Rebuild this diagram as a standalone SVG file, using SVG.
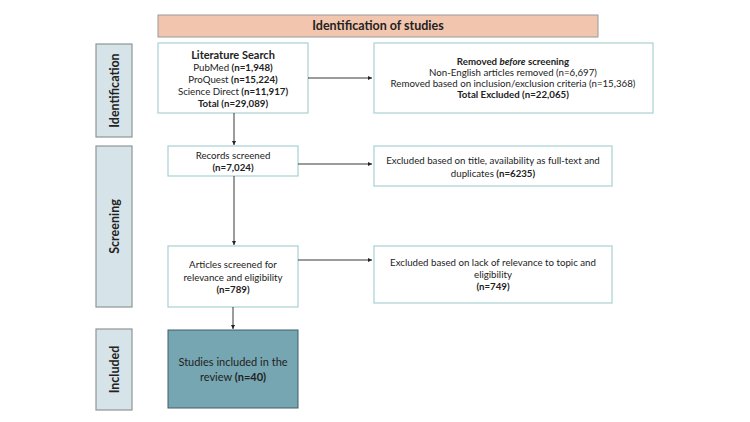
<svg xmlns="http://www.w3.org/2000/svg" width="750" height="422" viewBox="0 0 750 422">
<defs>
<marker id="ah" viewBox="0 0 10 10" refX="10" refY="5" markerWidth="5" markerHeight="5" orient="auto"><path d="M0,0 L10,5 L0,10 z" fill="#222"/></marker>
<style>
text{font-family:Lato,"Open Sans","Liberation Sans",sans-serif;fill:#222;text-anchor:middle;font-size:9.7px}
.b{font-weight:bold}
.box{fill:#fff;stroke:#a9d0d4;stroke-width:1.2}
.side{fill:#d6e4e9;stroke:#8e9597;stroke-width:1.2}
.sl{font-weight:bold;font-size:12.5px}
.c{stroke:#222;stroke-width:0.9;fill:none;marker-end:url(#ah)}
</style>
</defs>
<rect width="750" height="422" fill="#fff"/>
<g id="header"><rect x="158" y="15" width="440" height="22" fill="#f2c5ae" stroke="#9a9a9a" stroke-width="1"/><text x="378" y="30" class="b" style="font-size:12.5px">Identification of studies</text></g>
<g id="side-identification"><rect class="side" x="96" y="44" width="36" height="93"/><text class="sl" transform="translate(118.5,90.5) rotate(-90)">Identification</text></g>
<g id="side-screening"><rect class="side" x="96" y="146" width="36" height="161"/><text class="sl" transform="translate(118.5,226.5) rotate(-90)">Screening</text></g>
<g id="side-included"><rect class="side" x="96" y="329" width="36" height="81"/><text class="sl" transform="translate(118.5,369.5) rotate(-90)">Included</text></g>
<g id="literature-search"><rect class="box" x="158" y="43" width="150" height="70"/>
<text x="233" y="59" class="b" style="font-size:11px">Literature Search</text>
<text x="233" y="71">PubMed <tspan class="b">(n=1,948)</tspan></text>
<text x="233" y="83">ProQuest <tspan class="b">(n=15,224)</tspan></text>
<text x="233" y="95">Science Direct <tspan class="b">(n=11,917)</tspan></text>
<text x="233" y="107" class="b">Total (n=29,089)</text></g>
<g id="removed-before"><rect class="box" x="374" y="43" width="279" height="70"/>
<text x="513" y="65" class="b">Removed <tspan font-style="italic">before</tspan> screening</text>
<text x="513" y="76">Non-English articles removed (n=6,697)</text>
<text x="513" y="87">Removed based on inclusion/exclusion criteria (n=15,368)</text>
<text x="513" y="98" class="b">Total Excluded (n=22,065)</text></g>
<g id="records-screened"><rect class="box" x="168" y="146" width="130" height="30"/>
<text x="233" y="159">Records screened</text>
<text x="233" y="171" class="b">(n=7,024)</text></g>
<g id="excluded-title"><rect class="box" x="374" y="146" width="238" height="40"/>
<text x="493" y="164">Excluded based on title, availability as full-text and</text>
<text x="493" y="177">duplicates <tspan class="b">(n=6235)</tspan></text></g>
<g id="articles-screened"><rect class="box" x="168" y="246" width="130" height="61"/>
<text x="233" y="268">Articles screened for</text>
<text x="233" y="281">relevance and eligibility</text>
<text x="233" y="293" class="b">(n=789)</text></g>
<g id="excluded-relevance"><rect class="box" x="374" y="246" width="238" height="57"/>
<text x="493" y="266">Excluded  based on lack of relevance to topic and</text>
<text x="493" y="278">eligibility</text>
<text x="493" y="290" class="b">(n=749)</text></g>
<g id="studies-included"><rect x="168" y="330" width="130" height="78" fill="#76a6b2" stroke="#3e5e66" stroke-width="1"/>
<text x="233" y="366" style="font-size:11px">Studies included in the</text>
<text x="233" y="381" style="font-size:11px">review <tspan class="b">(n=40)</tspan></text></g>
<g id="connectors">
<line class="c" x1="308" y1="78" x2="372" y2="78"/>
<line class="c" x1="234" y1="113" x2="234" y2="145"/>
<line class="c" x1="298" y1="164" x2="372" y2="164"/>
<line class="c" x1="234" y1="176" x2="234" y2="245"/>
<line class="c" x1="298" y1="260" x2="372" y2="260"/>
<line class="c" x1="233" y1="307" x2="233" y2="329"/>
</g>
</svg>
